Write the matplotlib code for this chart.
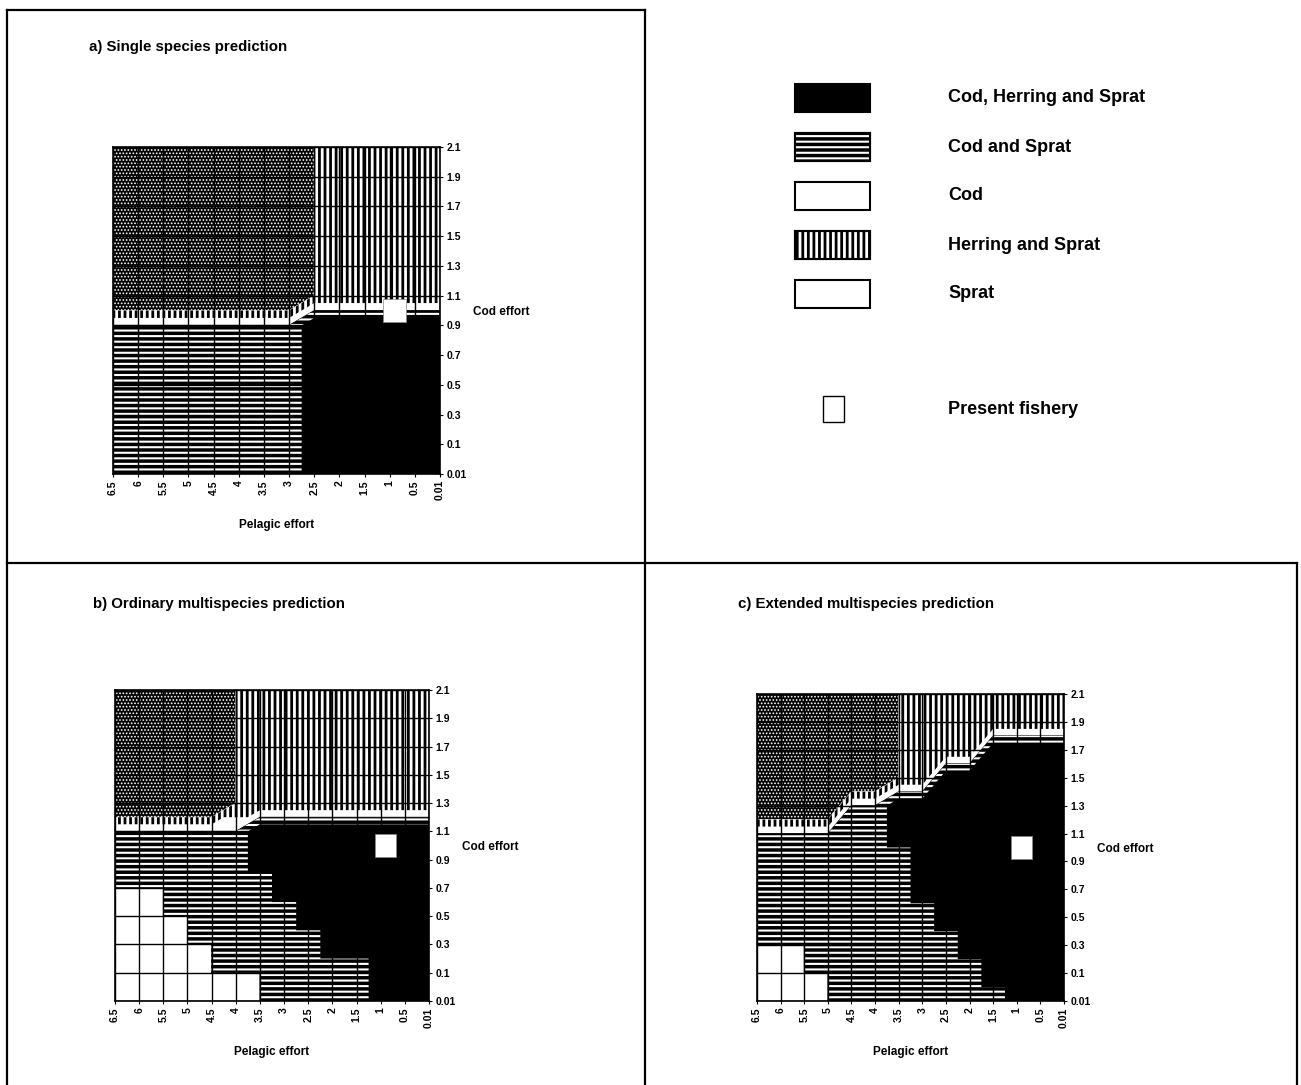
import numpy as np
import matplotlib
matplotlib.use("Agg")
import matplotlib.pyplot as plt
import matplotlib.tri as mtri
from matplotlib.patches import Rectangle, PathPatch

plt.rcParams["font.family"] = ["Liberation Sans", "DejaVu Sans"]
plt.rcParams["hatch.linewidth"] = 1.4

# axis categories (equally spaced in the original chart)
pelagic_effort = ["6.5", "6", "5.5", "5", "4.5", "4", "3.5", "3", "2.5", "2", "1.5", "1", "0.5", "0.01"]
cod_effort = ["0.01", "0.1", "0.3", "0.5", "0.7", "0.9", "1.1", "1.3", "1.5", "1.7", "1.9", "2.1"]

# surviving species at each grid point, digit = cod 4 + herring 2 + sprat 1
# rows go from cod effort 2.1 (top) down to 0.01, columns follow pelagic_effort
single_rows = [
    "11111111333333",
    "11111111333333",
    "11111111333333",
    "11111111333333",
    "11111111333333",
    "11111111333333",
    "55555555777777",
    "55555555777777",
    "55555555777777",
    "55555555777777",
    "55555555777777",
    "55555555777777",
]
ordinary_rows = [
    "11111333333333",
    "11111333333333",
    "11111333333333",
    "11111333333333",
    "11111333333333",
    "55555577777777",
    "55555577777777",
    "55555557777777",
    "44555555777777",
    "44455555577777",
    "44445555555777",
    "44444455555777",
]
extended_rows = [
    "11111133333333",
    "11111133333333",
    "11111133337777",
    "11111133777777",
    "11115577777777",
    "55555577777777",
    "55555557777777",
    "55555557777777",
    "55555555777777",
    "55555555577777",
    "44555555557777",
    "44455555555777",
]

panel_titles = ["a) Single species prediction",
                "b) Ordinary multispecies prediction",
                "c) Extended multispecies prediction"]

# present fishery
fishery_pelagic = 0.9
fishery_cod = 1.0

legend_labels = ["Cod, Herring and Sprat", "Cod and Sprat", "Cod", "Herring and Sprat", "Sprat"]

# contour bands: Sprat, Herring+Sprat, Cod, Cod+Sprat, Cod+Herring+Sprat
levels = [0, 2.999, 3.999, 4.999, 5.999, 8]
# (face, hatch, hatch colour, hatch linewidth)
band_styles = [
    ("black", ".....", "white", 0.8),
    ("white", "|||", "black", 2.0),
    ("white", None, None, None),
    ("black", "---", "white", 1.5),
    ("black", None, None, None),
]
legend_styles = [band_styles[4], band_styles[3], band_styles[2], band_styles[1],
                 ("white", None, None, None)]

W, H = 1301, 1085
fig = plt.figure(figsize=(W / 100, H / 100), dpi=100)

# overlay in pixel units for frames, titles and the legend
ov = fig.add_axes([0, 0, 1, 1])
ov.set_xlim(0, W)
ov.set_ylim(H, 0)
ov.axis("off")

pel_vals = np.array([float(v) for v in pelagic_effort])
cod_vals = np.array([float(v) for v in cod_effort])


def hatched(patch_cls, *args, hatch_lw=None, **kw):
    with plt.rc_context({"hatch.linewidth": hatch_lw or 1.4}):
        p = patch_cls(*args, **kw)
    if hatch_lw and hasattr(p, "set_hatch_linewidth"):
        p.set_hatch_linewidth(hatch_lw)
    return p


def draw_panel(rect, rows, title, title_xy):
    ax = fig.add_axes(rect)
    z = np.array([[int(ch) for ch in row] for row in rows[::-1]], dtype=float)
    ny, nx = z.shape
    x = np.arange(nx)
    y = np.arange(ny)
    xx, yy = np.meshgrid(x, y)
    # every cell split along its lower-left to upper-right diagonal
    tris = []
    for j in range(ny - 1):
        for i in range(nx - 1):
            bl, br = j * nx + i, j * nx + i + 1
            tl, tr = bl + nx, br + nx
            tris += [[bl, br, tr], [bl, tr, tl]]
    tri = mtri.Triangulation(xx.ravel(), yy.ravel(), tris)
    cs = ax.tricontourf(tri, z.ravel(), levels=levels)
    paths = cs.get_paths()
    cs.remove()
    for path, (face, hatch, hcol, hlw) in zip(paths, band_styles):
        if len(path.vertices) == 0:
            continue
        ax.add_patch(PathPatch(path, facecolor=face, edgecolor=face, lw=0.6, zorder=1))
        if hatch:
            ax.add_patch(hatched(PathPatch, path, facecolor="none", edgecolor=hcol,
                                 hatch=hatch, lw=0, zorder=1.1, hatch_lw=hlw))

    # present fishery marker
    fx = np.interp(fishery_pelagic, pel_vals[::-1], x[::-1])
    fy = np.interp(fishery_cod, cod_vals, y)
    ax.add_patch(Rectangle((fx - 0.45, fy - 0.4), 0.9, 0.8, facecolor="white",
                           edgecolor="#888888", lw=0.5, zorder=3))

    ax.set_xlim(0, nx - 1)
    ax.set_ylim(0, ny - 1)
    ax.set_xticks(x)
    ax.set_xticklabels(pelagic_effort, rotation=90)
    ax.set_yticks(y)
    ax.set_yticklabels(cod_effort)
    ax.yaxis.tick_right()
    ax.tick_params(length=2.5, width=0.8, pad=2, labelsize=7.5)
    for lab in ax.get_xticklabels() + ax.get_yticklabels():
        lab.set_fontweight("bold")
    ax.grid(True, color="black", lw=1.0)
    ax.set_axisbelow(False)
    for s in ax.spines.values():
        s.set_linewidth(1.2)

    ax.annotate("Pelagic effort", xy=(0.5, 0), xycoords="axes fraction",
                xytext=(0, -37), textcoords="offset points", ha="center", va="center",
                fontsize=8.5, fontweight="bold")
    ax.annotate("Cod effort", xy=(1, 5.45), xycoords=("axes fraction", "data"),
                xytext=(24, 0), textcoords="offset points", ha="left", va="center",
                fontsize=8.5, fontweight="bold")
    ov.text(title_xy[0], title_xy[1], title, ha="left", va="center",
            fontsize=10.8, fontweight="bold")
    return ax


def px_rect(left, top, right, bottom):
    return [left / W, 1 - bottom / H, (right - left) / W, (bottom - top) / H]


draw_panel(px_rect(113, 147, 440, 474), single_rows, panel_titles[0], (89, 47))
draw_panel(px_rect(115, 690, 429, 1001), ordinary_rows, panel_titles[1], (93, 604))
draw_panel(px_rect(757, 694, 1064, 1001), extended_rows, panel_titles[2], (738, 604))

# panel frames
frame_kw = dict(color="black", lw=1.6, solid_capstyle="projecting")
ov.plot([7, 645], [10, 10], **frame_kw)
ov.plot([7, 7], [10, H], **frame_kw)
ov.plot([645, 645], [10, H], **frame_kw)
ov.plot([7, 1297], [563, 563], **frame_kw)
ov.plot([1297, 1297], [563, H], **frame_kw)

# legend
for k, (label, (face, hatch, hcol, hlw)) in enumerate(zip(legend_labels, legend_styles)):
    yc = 98 + 49 * k
    ov.add_patch(Rectangle((795, yc - 14), 75, 28, facecolor=face, edgecolor="black", lw=1.5))
    if hatch:
        ov.add_patch(hatched(Rectangle, (796, yc - 13), 73, 26, facecolor="none",
                             edgecolor=hcol, hatch=hatch, lw=0, hatch_lw=hlw))
        ov.add_patch(Rectangle((795, yc - 14), 75, 28, facecolor="none", edgecolor="black", lw=1.5))
    ov.text(948, yc, label, ha="left", va="center", fontsize=13, fontweight="bold")

ov.add_patch(Rectangle((823, 396), 21, 26, facecolor="white", edgecolor="black", lw=1.0))
ov.text(948, 409, "Present fishery", ha="left", va="center", fontsize=13, fontweight="bold")

fig.savefig("out.png", dpi=100, facecolor="white")
